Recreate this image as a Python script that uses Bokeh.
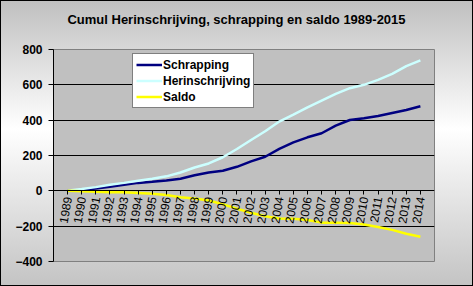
from bokeh.plotting import figure
from bokeh.models import FixedTicker, Legend, LegendItem, Range1d, Div
from bokeh.layouts import column
from bokeh.embed import file_html
from bokeh.resources import INLINE

years = list(range(1989, 2015))
herinschrijving = [0, 10, 21, 34, 45, 57, 68, 82, 104, 132, 155, 190, 237, 288, 337,
                   392, 432, 473, 511, 549, 581, 600, 628, 662, 706, 738]
schrapping = [0, 4, 13, 23, 34, 45, 51, 58, 68, 88, 104, 114, 136, 167, 193,
              237, 274, 303, 326, 369, 401, 411, 424, 441, 458, 479]
saldo = [0, -3, -5, -8, -8, -12, -17, -24, -36, -44, -55, -76, -101, -124, -144,
         -157, -158, -165, -180, -180, -182, -190, -205, -221, -243, -260]
y_ticks = [-400, -200, 0, 200, 400, 600, 800]
title_text = "Cumul Herinschrijving, schrapping en saldo 1989-2015"

FONT = "Liberation Sans"

title_div = Div(text=title_text, width=471, height=30, margin=0,
                styles={"font-family": FONT, "font-size": "13px", "font-weight": "bold",
                        "color": "black", "text-align": "center",
                        "line-height": "38px", "overflow": "visible"})

p = figure(width=471, height=254, output_backend="svg", toolbar_location=None,
           x_range=Range1d(1988, 2015), y_range=Range1d(-400, 800),
           min_border_left=52, min_border_right=38, min_border_top=18,
           min_border_bottom=24)
p.title = None
p.border_fill_alpha = 0
p.background_fill_color = "#c0c0c0"
p.outline_line_color = "#808080"
p.outline_line_width = 1

r1 = p.line(years, schrapping, line_color="#000080", line_width=2.5)
r2 = p.line(years, herinschrijving, line_color="#ccffff", line_width=2.5)
r3 = p.line(years, saldo, line_color="#ffff00", line_width=2.5)

# axes
p.xaxis.ticker = FixedTicker(ticks=years)
p.xaxis.fixed_location = 0
p.xaxis.major_label_orientation = 1.40
p.xaxis.major_label_text_font = FONT
p.xaxis.major_label_text_font_size = "12px"
p.xaxis.major_label_text_color = "black"
p.xaxis.axis_line_color = "black"
p.xaxis.major_tick_line_color = "black"
p.xaxis.major_tick_out = 4
p.xaxis.major_tick_in = 0
p.xaxis.minor_tick_line_color = None
p.xaxis.major_label_standoff = 2

p.yaxis.ticker = FixedTicker(ticks=y_ticks)
p.yaxis.major_label_text_font = FONT
p.yaxis.major_label_text_font_size = "12px"
p.yaxis.major_label_text_font_style = "bold"
p.yaxis.major_label_text_color = "black"
p.yaxis.axis_line_color = "black"
p.yaxis.major_tick_line_color = "black"
p.yaxis.major_tick_out = 5
p.yaxis.major_tick_in = 0
p.yaxis.minor_tick_line_color = None
p.yaxis.major_label_standoff = 6

p.xgrid.visible = False
p.ygrid.ticker = FixedTicker(ticks=[-200, 200, 400, 600])
p.ygrid.grid_line_color = "black"
p.ygrid.grid_line_width = 1

legend = Legend(items=[LegendItem(label="Schrapping", renderers=[r1]),
                       LegendItem(label="Herinschrijving", renderers=[r2]),
                       LegendItem(label="Saldo", renderers=[r3])],
                location=(79, 153), orientation="vertical")
legend.label_text_font = FONT
legend.label_text_font_size = "12px"
legend.label_text_font_style = "bold"
legend.label_text_color = "black"
legend.label_height = 15
legend.glyph_height = 15
legend.glyph_width = 26
legend.label_standoff = 1
legend.spacing = 1
legend.padding = 3
legend.margin = 0
legend.border_line_color = "black"
legend.border_line_width = 1
legend.background_fill_color = "white"
legend.background_fill_alpha = 1
p.add_layout(legend, "center")

layout = column(title_div, p, spacing=0,
                styles={"border": "1px solid black",
                        "background": "linear-gradient(to bottom, #c0c0c0 0%, #ffffff 45%, #c4c4c4 100%)"})

open("out.html", "w").write(file_html(layout, INLINE))
